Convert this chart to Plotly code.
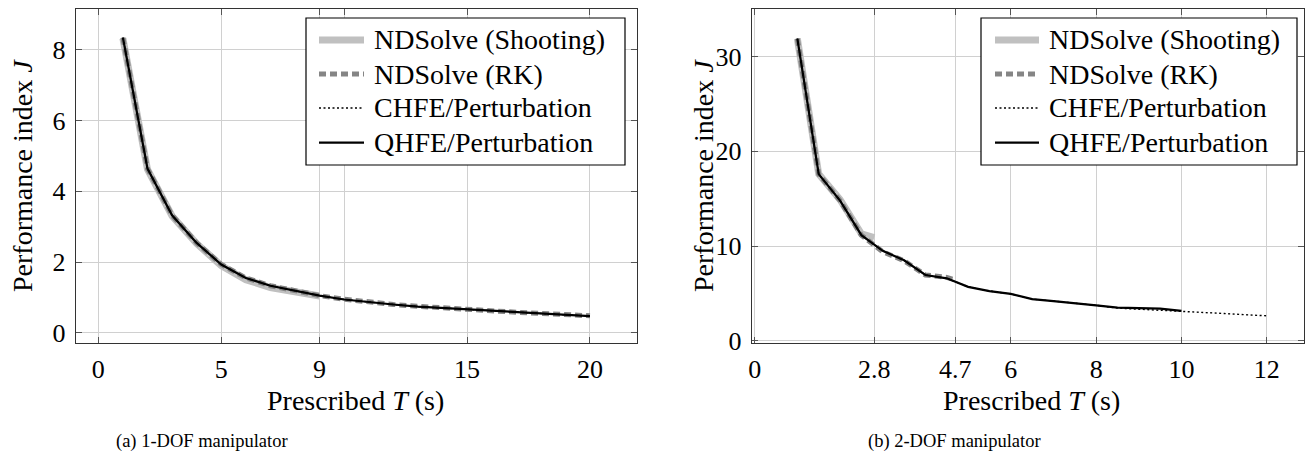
import plotly.graph_objects as go

# ---------------- data ----------------
# (a) 1-DOF manipulator
T1 = [1, 2, 3, 4, 5, 6, 7, 8, 9, 10, 11, 12, 13, 14, 15, 16, 17, 18, 19, 20]
J1_qhfe = [8.34, 4.64, 3.32, 2.54, 1.93, 1.55, 1.33, 1.19, 1.05, 0.94,
           0.86, 0.80, 0.74, 0.70, 0.66, 0.62, 0.58, 0.54, 0.50, 0.47]
J1_chfe = [8.34, 4.64, 3.32, 2.54, 1.93, 1.55, 1.33, 1.19, 1.05, 0.94,
           0.86, 0.80, 0.74, 0.70, 0.66, 0.62, 0.58, 0.54, 0.50, 0.47]
J1_rk = [8.34, 4.64, 3.32, 2.54, 1.93, 1.55, 1.33, 1.19, 1.05, 0.95,
         0.87, 0.80, 0.75, 0.70, 0.66, 0.62, 0.58, 0.55, 0.51, 0.48]
T1_shoot = [1, 2, 3, 4, 5, 6, 7, 8, 9]
J1_shoot = [8.32, 4.62, 3.30, 2.52, 1.90, 1.50, 1.28, 1.15, 1.04]

# (b) 2-DOF manipulator
T2 = [1, 1.5, 2, 2.5, 3, 3.5, 4, 4.5, 5, 5.5, 6, 6.5, 7, 7.5, 8, 8.5, 9, 9.5, 10]
J2_qhfe = [31.9, 17.6, 14.8, 11.15, 9.5, 8.5, 6.95, 6.6, 5.7, 5.25,
           4.95, 4.4, 4.2, 4.0, 3.75, 3.5, 3.45, 3.4, 3.16]
T2_chfe = [1, 1.5, 2, 2.5, 3, 3.5, 4, 4.5, 5, 5.5, 6, 6.5, 7, 7.5, 8, 8.5, 9, 9.5, 10,
           10.5, 11, 11.5, 12]
J2_chfe = [31.9, 17.6, 14.8, 11.15, 9.5, 8.5, 6.95, 6.6, 5.7, 5.25,
           4.95, 4.4, 4.2, 4.0, 3.75, 3.45, 3.35, 3.25, 3.16,
           3.0, 2.88, 2.75, 2.64]
T2_rk = [1, 1.5, 2, 2.5, 3, 3.5, 4, 4.5, 4.7]
J2_rk = [31.9, 17.6, 14.8, 11.15, 9.4, 8.45, 6.95, 6.7, 6.4]
T2_shoot = [1, 1.5, 2, 2.5, 2.8]
J2_shoot = [31.9, 17.6, 14.9, 11.3, 10.9]

names = ["NDSolve (Shooting)", "NDSolve (RK)", "CHFE/Perturbation", "QHFE/Perturbation"]

x1_ticks = [0, 5, 9, 10, 15, 20]
x1_text = ["0", "5", "9", "", "15", "20"]
y1_ticks = [0, 2, 4, 6, 8]
x2_ticks = [0, 2.8, 4.7, 6, 8, 10, 12]
x2_text = ["0", "2.8", "4.7", "6", "8", "10", "12"]
y2_ticks = [0, 10, 20, 30]

# ---------------- styles ----------------
FONT = "Liberation Serif"
W, H = 1305, 462
styles = [
    dict(color="#c0c0c0", width=7, dash="solid"),
    dict(color="#858585", width=5, dash="7px,4px"),
    dict(color="black", width=1.4, dash="2px,2.5px"),
    dict(color="black", width=2.2, dash="solid"),
]

fig = go.Figure()

def add_set(xs, ys, xa, ya):
    for i, (x, y) in enumerate(zip(xs, ys)):
        fig.add_trace(go.Scatter(
            x=x, y=y, mode="lines", name=names[i], line=styles[i],
            xaxis=xa, yaxis=ya, showlegend=False))

add_set([T1_shoot, T1, T1, T1], [J1_shoot, J1_rk, J1_chfe, J1_qhfe], "x", "y")
add_set([T2_shoot, T2_rk, T2_chfe, T2], [J2_shoot, J2_rk, J2_chfe, J2_qhfe], "x2", "y2")

ax_common = dict(
    showline=True, linecolor="#333333", linewidth=1.2, mirror="allticks",
    ticks="inside", ticklen=6, tickcolor="#555555", tickwidth=1,
    showgrid=True, gridcolor="#d0d0d0", gridwidth=1, zeroline=False,
    tickfont=dict(family=FONT, size=26, color="black"),
    fixedrange=True, automargin=False,
)

top_px, bot_px = 9.3, 342.7
ydom = [1 - bot_px / H, 1 - top_px / H]

fig.update_layout(
    template="none",
    width=W, height=H, autosize=False,
    margin=dict(l=0, r=0, t=0, b=0, pad=0, autoexpand=False),
    paper_bgcolor="white", plot_bgcolor="white",
    font=dict(family=FONT, color="black"),
    showlegend=False,
    xaxis=dict(domain=[75.7 / W, 636.7 / W], range=[-0.92, 21.9],
               tickmode="array", tickvals=x1_ticks, ticktext=x1_text,
               ticklabelstandoff=3, **ax_common),
    yaxis=dict(domain=ydom, range=[-0.28, 9.14], tickmode="array", tickvals=y1_ticks,
               ticklabelstandoff=4, **ax_common),
    xaxis2=dict(domain=[751.7 / W, 1304 / W], range=[-0.07, 12.87], anchor="y2",
                tickmode="array", tickvals=x2_ticks, ticktext=x2_text,
                ticklabelstandoff=3, **ax_common),
    yaxis2=dict(domain=ydom, range=[-0.2, 35.0], anchor="x2", tickmode="array",
                tickvals=y2_ticks, ticklabelstandoff=4, **ax_common),
)

# ---------------- legends (boxes placed in paper coordinates) ----------------
def px(x):
    return x / W

def py(y):
    return 1 - y / H

rows = [40, 74, 108, 142.7]
for (bx0, bx1, sx0, sx1, tx) in [(306, 625, 319, 364, 372), (981, 1297, 995, 1039, 1047)]:
    fig.add_shape(type="rect", xref="paper", yref="paper",
                  x0=px(bx0), x1=px(bx1), y0=py(165), y1=py(18),
                  fillcolor="white", line=dict(color="black", width=1.2), layer="above")
    for i, ry in enumerate(rows):
        fig.add_shape(type="line", xref="paper", yref="paper",
                      x0=px(sx0), x1=px(sx1), y0=py(ry), y1=py(ry),
                      line=styles[i], layer="above")
        fig.add_annotation(xref="paper", yref="paper", showarrow=False,
                           text=names[i], x=px(tx), y=py(ry),
                           xanchor="left", yanchor="middle",
                           font=dict(family=FONT, size=28, color="black"))

ann = [
    dict(text="Performance index <i>J</i>", x=22 / W, y=1 - 176 / H, textangle=-90),
    dict(text="Performance index <i>J</i>", x=703 / W, y=1 - 176 / H, textangle=-90),
    dict(text="Prescribed <i>T</i> (s)", x=355 / W, y=1 - 400 / H),
    dict(text="Prescribed <i>T</i> (s)", x=1031 / W, y=1 - 400 / H),
]
for a in ann:
    fig.add_annotation(xref="paper", yref="paper", showarrow=False,
                       xanchor="center", yanchor="middle",
                       font=dict(family=FONT, size=28, color="black"), **a)
for txt, cx in [("(a) 1-DOF manipulator", 202), ("(b) 2-DOF manipulator", 954)]:
    fig.add_annotation(xref="paper", yref="paper", showarrow=False, text=txt,
                       x=cx / W, y=1 - 441 / H, xanchor="center", yanchor="middle",
                       font=dict(family=FONT, size=18.5, color="black"))

fig.write_html("out.html",
               config={"displayModeBar": False, "responsive": False},
               post_script="document.body.style.margin='0px';document.body.style.overflow='hidden';")
